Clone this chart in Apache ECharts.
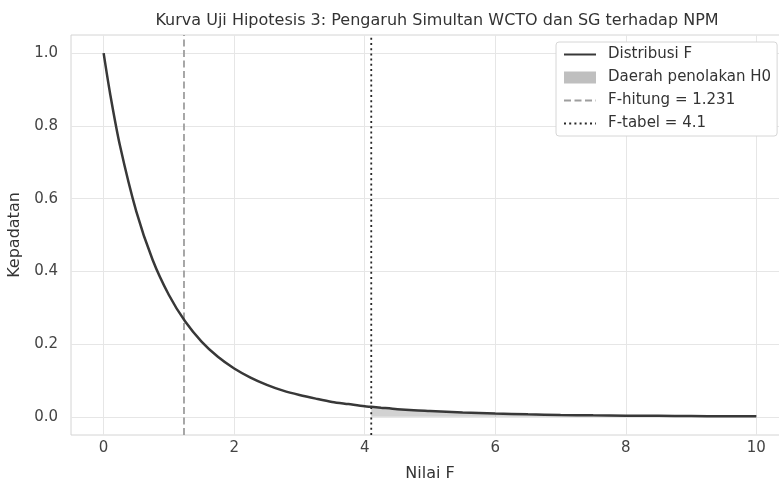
<!DOCTYPE html>
<html>
<head>
<meta charset="UTF-8">
<title>Kurva Uji Hipotesis 3</title>
<script src="https://cdn.jsdelivr.net/npm/echarts@6/dist/echarts.min.js"></script>
<style>
  html, body { margin: 0; padding: 0; background: #fff; overflow: hidden; }
  /* area plot menerus sedikit melewati tepi kanan gambar, seperti referensi */
  #main { width: 790px; height: 482px; }
</style>
</head>
<body>
<div id="main"></div>
<script>
// nilai F (sumbu x) dan kepadatan yang dibaca dari gambar
var fValues = [0, 0.1, 0.25, 0.5, 0.75, 1, 1.25, 1.5, 1.75, 2, 2.25, 2.5, 2.75, 3, 3.25, 3.5, 3.75, 4, 4.1,
               4.25, 4.5, 4.75, 5, 5.5, 6, 6.5, 7, 7.5, 8, 8.5, 9, 9.5, 10];
var density = [1.0, 0.888, 0.746, 0.565, 0.432, 0.335, 0.262, 0.207, 0.165, 0.133, 0.108, 0.088, 0.072, 0.060,
               0.050, 0.041, 0.035, 0.029, 0.0275, 0.025, 0.021, 0.018, 0.016, 0.012, 0.0088, 0.0068, 0.0052,
               0.0041, 0.0032, 0.0026, 0.0021, 0.0017, 0.0014];
var fHitung = 1.231;
var fTabel = 4.1;
var xTicks = [0, 2, 4, 6, 8, 10];
var yTicks = [0.0, 0.2, 0.4, 0.6, 0.8, 1.0];

var xMin = -0.5, xMax = 10.5, yMin = -0.05, yMax = 1.05;

var curve = fValues.map(function (x, i) { return [x, density[i]]; });
var rejectArea = curve.filter(function (p) { return p[0] >= fTabel; });

var myChart = echarts.init(document.getElementById('main'));
var font = 'DejaVu Sans';
var option = {
  backgroundColor: '#ffffff',
  animation: false,
  title: {
    text: 'Kurva Uji Hipotesis 3: Pengaruh Simultan WCTO dan SG terhadap NPM',
    left: 432,
    textAlign: 'center',
    top: 8,
    textStyle: { fontFamily: font, fontSize: 16, fontWeight: 'normal', color: '#333' }
  },
  legend: {
    orient: 'vertical',
    left: 556,
    top: 42,
    backgroundColor: '#fff',
    borderColor: '#d6d6d6',
    borderWidth: 1,
    borderRadius: 3,
    padding: [5, 6, 5, 7],
    itemWidth: 32,
    itemHeight: 12,
    itemGap: 8,
    textStyle: { fontFamily: font, fontSize: 15, lineHeight: 15, color: '#333', padding: [0, 0, 0, 7] },
    data: [
      { name: 'Distribusi F', itemStyle: { opacity: 0 } },
      { name: 'Daerah penolakan H0', icon: 'rect' },
      { name: 'F-hitung = ' + fHitung, itemStyle: { opacity: 0 } },
      { name: 'F-tabel = ' + fTabel, itemStyle: { opacity: 0 } }
    ]
  },
  grid: {
    left: 71,
    right: 1,
    top: 35,
    bottom: 47,
    outerBoundsMode: 'none',
    show: true,
    borderColor: '#d4d4d4',
    borderWidth: 1
  },
  xAxis: {
    type: 'value',
    min: xMin,
    max: xMax,
    name: 'Nilai F',
    nameLocation: 'middle',
    nameGap: 31,
    nameTextStyle: { fontFamily: font, fontSize: 16, color: '#333' },
    axisLine: { show: false },
    axisTick: { show: false },
    axisLabel: {
      fontFamily: font, fontSize: 15, color: '#444', margin: 6,
      showMinLabel: false, showMaxLabel: false,
      formatter: function (v) { return xTicks.indexOf(v) >= 0 ? String(v) : ''; }
    },
    splitLine: { show: true, showMinLine: false, showMaxLine: false, lineStyle: { color: '#e6e6e6', width: 1 } }
  },
  yAxis: {
    type: 'value',
    min: yMin,
    max: yMax,
    name: 'Kepadatan',
    nameLocation: 'middle',
    nameGap: 38,
    nameTextStyle: { fontFamily: font, fontSize: 16, color: '#333' },
    axisLine: { show: false },
    axisTick: { show: false },
    axisLabel: {
      fontFamily: font, fontSize: 15, color: '#444', margin: 13,
      showMinLabel: false, showMaxLabel: false,
      formatter: function (v) {
        var hit = yTicks.filter(function (t) { return Math.abs(t - v) < 1e-9; });
        return hit.length ? hit[0].toFixed(1) : '';
      }
    },
    splitLine: { show: true, showMinLine: false, showMaxLine: false, lineStyle: { color: '#e6e6e6', width: 1 } }
  },
  series: [
    {
      name: 'Daerah penolakan H0',
      type: 'line',
      data: rejectArea,
      smooth: 0.3,
      showSymbol: false,
      symbol: 'none',
      lineStyle: { width: 0 },
      itemStyle: { color: 'rgba(128,128,128,0.5)' },
      areaStyle: { color: 'rgba(128,128,128,0.5)', origin: 0 },
      z: 1
    },
    {
      name: 'Distribusi F',
      type: 'line',
      data: curve,
      smooth: 0.3,
      showSymbol: false,
      symbol: 'none',
      itemStyle: { color: '#383838' },
      lineStyle: { color: '#383838', width: 2.5 },
      z: 3
    },
    {
      name: 'F-hitung = ' + fHitung,
      type: 'line',
      data: [[fHitung, yMin], [fHitung, yMax]],
      showSymbol: false,
      symbol: 'none',
      itemStyle: { color: '#9e9e9e' },
      lineStyle: { color: '#9e9e9e', width: 1.8, type: [7, 3.5] },
      z: 2
    },
    {
      name: 'F-tabel = ' + fTabel,
      type: 'line',
      data: [[fTabel, yMin], [fTabel, yMax]],
      showSymbol: false,
      symbol: 'none',
      itemStyle: { color: '#262626' },
      lineStyle: { color: '#262626', width: 1.8, type: [2, 3.2] },
      z: 2
    }
  ]
};
myChart.setOption(option);
</script>
</body>
</html>
